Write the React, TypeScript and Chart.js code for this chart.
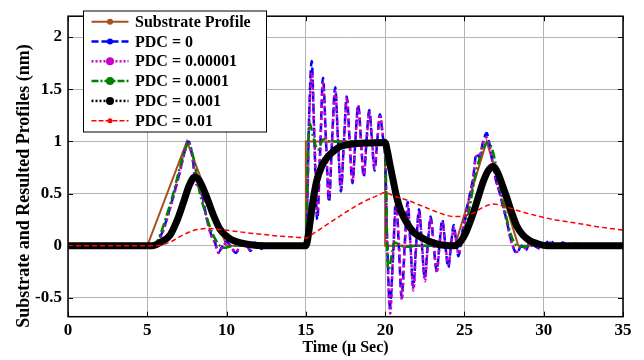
import React, { useEffect, useRef } from "react";
import { Chart, registerables } from "chart.js";
Chart.register(...registerables);

const xTickValues = [0, 5, 10, 15, 20, 25, 30, 35];
const yTickValues = [-0.5, 0, 0.5, 1, 1.5, 2];
const xTitle = "Time (\u00b5 Sec)";
const yTitle = "Substrate and Resulted Profiles (nm)";
const seriesLabels = ["Substrate Profile", "PDC = 0", "PDC = 0.00001", "PDC = 0.0001", "PDC = 0.001", "PDC = 0.01"];

const substrateT = [0, 5, 7.5, 10, 15, 15, 20, 20, 24.4, 26.4, 28.4, 35];
const substrateV = [0, 0, 1, 0, 0, 1, 1, 0, 0, 1, 0, 0];

const pdc0T = [0, 5.3, 5.6, 6.0, 6.5, 7.0, 7.3, 7.6, 7.85, 8.05, 8.25, 8.45, 8.7, 9.0, 9.25, 9.5, 9.75, 10.0, 10.3, 10.6, 10.9, 11.2, 11.5, 11.8, 12.2, 12.6, 13.0, 13.5, 14, 15,
  15.08, 15.2, 15.37, 15.52, 15.72, 15.9, 16.08, 16.27, 16.46, 16.65, 16.85, 17.03, 17.21, 17.4, 17.58, 17.76, 17.94, 18.12, 18.3, 18.48, 18.65, 18.82, 19.0, 19.17, 19.33, 19.5, 19.67, 19.85, 20.0,
  20.12, 20.3, 20.5, 20.68, 20.86, 21.04, 21.23, 21.42, 21.6, 21.77, 21.95, 22.14, 22.32, 22.5, 22.68, 22.87, 23.06, 23.25, 23.42, 23.6, 23.8, 23.98, 24.15, 24.32, 24.47, 24.62, 24.85,
  25.1, 25.35, 25.55, 25.75, 25.95, 26.15, 26.4, 26.6, 26.8, 27.0, 27.2, 27.4, 27.65, 27.95, 28.3, 28.6, 28.9, 29.1, 29.4, 29.8, 30.1, 30.4, 30.8, 31.2, 31.6, 32.0, 32.5, 33, 33.5, 34, 35];
const pdc0V = [0, 0, 0.03, 0.15, 0.4, 0.68, 0.87, 1.0, 0.85, 0.62, 0.58, 0.5, 0.3, 0.12, 0.04, -0.06, 0.0, 0.04, -0.02, -0.07, 0.02, 0.03, -0.05, 0.03, -0.03, 0.02, -0.01, 0.01, 0, 0,
  0.3, 1.2, 1.77, 1.1, 0.25, 0.9, 1.61, 1.0, 0.42, 1.0, 1.52, 1.0, 0.52, 1.0, 1.43, 1.0, 0.6, 1.0, 1.35, 1.0, 0.66, 1.0, 1.3, 1.0, 0.72, 1.0, 1.26, 1.05, 0.85,
  0.1, -0.58, -0.1, 0.45, 0.0, -0.49, 0.0, 0.42, 0.0, -0.4, 0.0, 0.35, 0.0, -0.31, 0.0, 0.28, 0.0, -0.24, 0.0, 0.25, 0.0, -0.21, 0.0, 0.2, 0.05, -0.1, 0.12,
  0.31, 0.5, 0.65, 0.88, 0.85, 0.98, 1.08, 0.96, 0.78, 0.62, 0.52, 0.4, 0.25, 0.05, -0.07, 0.0, -0.04, 0.03, 0.0, -0.03, 0.02, 0.05, 0.0, 0.03, -0.01, 0.02, 0.0, 0.02, 0, 0.01, 0];

const pdc1T = [0, 5.35, 5.65, 6.0, 6.5, 7.0, 7.3, 7.6, 7.85, 8.05, 8.25, 8.45, 8.7, 9.0, 9.25, 9.5, 9.75, 10.0, 10.3, 10.6, 10.9, 11.2, 11.5, 11.8, 12.2, 12.6, 13.0, 14, 15,
  15.08, 15.2, 15.38, 15.53, 15.72, 15.9, 16.09, 16.27, 16.46, 16.65, 16.86, 17.03, 17.22, 17.4, 17.59, 17.76, 17.95, 18.12, 18.31, 18.48, 18.66, 18.83, 19.01, 19.18, 19.34, 19.5, 19.68, 19.86, 20.0,
  20.12, 20.32, 20.5, 20.7, 20.88, 21.06, 21.24, 21.43, 21.6, 21.78, 21.96, 22.15, 22.33, 22.51, 22.69, 22.88, 23.07, 23.26, 23.43, 23.61, 23.8, 23.99, 24.16, 24.33, 24.48, 24.63, 24.85,
  25.1, 25.35, 25.55, 25.75, 25.95, 26.15, 26.4, 26.6, 26.8, 27.0, 27.2, 27.4, 27.65, 27.95, 28.3, 28.6, 28.9, 29.1, 29.4, 29.8, 30.1, 30.4, 30.8, 31.2, 31.6, 32.0, 33, 35];
const pdc1V = [0, 0, 0.03, 0.14, 0.39, 0.67, 0.86, 1.0, 0.84, 0.6, 0.57, 0.48, 0.29, 0.11, 0.03, -0.07, -0.01, 0.03, -0.02, -0.06, 0.01, 0.02, -0.04, 0.02, -0.02, 0.01, -0.01, 0, 0,
  0.3, 1.15, 1.66, 1.1, 0.3, 0.9, 1.56, 1.0, 0.46, 1.0, 1.48, 1.0, 0.55, 1.0, 1.42, 1.0, 0.62, 1.0, 1.34, 1.0, 0.68, 1.0, 1.28, 1.0, 0.74, 1.0, 1.24, 1.05, 0.85,
  0.05, -0.65, -0.1, 0.4, 0.0, -0.52, 0.0, 0.38, 0.0, -0.43, 0.0, 0.32, 0.0, -0.34, 0.0, 0.26, 0.0, -0.26, 0.0, 0.22, 0.0, -0.18, 0.0, 0.17, 0.04, -0.08, 0.1,
  0.3, 0.49, 0.64, 0.86, 0.86, 0.97, 1.04, 0.95, 0.77, 0.62, 0.52, 0.4, 0.24, 0.04, -0.06, 0.0, -0.03, 0.02, 0.0, -0.02, 0.01, 0.03, 0.0, 0.02, -0.01, 0.01, 0.01, 0];

const pdc2T = [0, 5.4, 5.8, 6.2, 6.64, 7.0, 7.3, 7.6, 7.9, 8.32, 8.7, 9.1, 9.58, 9.9, 10.4, 15, 15.06, 15.15, 15.26, 15.45, 15.75, 16.1, 16.5, 20, 20.06, 20.12, 20.22, 20.4, 20.6, 21.0, 21.4, 22, 24.6,
  25.0, 25.3, 25.7, 26.1, 26.5, 26.8, 27.1, 27.5, 27.9, 28.3, 28.6, 29.2, 35];
const pdc2V = [0, 0, 0.1, 0.28, 0.5, 0.72, 0.88, 0.98, 0.85, 0.5, 0.3, 0.12, 0.0, -0.02, 0.0, 0, 0.4, 1.0, 1.17, 1.05, 0.92, 1.02, 1.0, 1.0, 0.6, 0.0, -0.23, -0.1, 0.03, 0.0, -0.01, 0, 0,
  0.15, 0.35, 0.68, 0.9, 0.99, 0.9, 0.68, 0.38, 0.12, 0.0, -0.01, 0.0, 0];

const pdc3T = [0, 5.3, 5.8, 6.43, 6.9, 7.27, 7.65, 8.0, 8.3, 8.74, 9.1, 9.58, 10.1, 10.6, 11.3, 12.5, 15, 15.1, 15.26, 15.45, 15.68, 16.0, 16.31, 16.7, 17.15, 17.7, 18.2, 19, 19.99,
  20.15, 20.3, 20.5, 20.72, 21.0, 21.36, 21.8, 22.4, 23, 23.45, 24.3, 24.7, 25.1, 25.55, 25.9, 26.2, 26.5, 26.8, 27.1, 27.35, 27.65, 28.0, 28.3, 28.7, 29.1, 29.6, 30.2, 35];
const pdc3V = [0, 0, 0.03, 0.1, 0.25, 0.41, 0.58, 0.66, 0.62, 0.47, 0.32, 0.16, 0.08, 0.04, 0.015, 0, 0, 0.05, 0.22, 0.43, 0.62, 0.76, 0.84, 0.9, 0.95, 0.97, 0.98, 0.985, 0.99,
  0.9, 0.78, 0.63, 0.47, 0.33, 0.22, 0.13, 0.07, 0.03, 0.01, 0, 0.03, 0.13, 0.31, 0.48, 0.62, 0.72, 0.76, 0.7, 0.6, 0.47, 0.31, 0.19, 0.1, 0.05, 0.02, 0, 0];

const pdc4T = [0, 5.5, 6.5, 7.2, 8.0, 8.8, 9.6, 10.5, 11.5, 12.5, 13.5, 14.5, 15, 15.5, 16.5, 17.5, 18.5, 19.5, 20, 20.5, 21.5, 22.5, 23.5, 24.3, 24.8, 25.5, 26.2, 26.8, 27.5, 28.5, 29.5, 30.5, 31.5, 32.5, 33.5, 35];
const pdc4V = [0, 0, 0.04, 0.1, 0.15, 0.165, 0.155, 0.14, 0.12, 0.105, 0.09, 0.08, 0.075, 0.12, 0.22, 0.32, 0.41, 0.48, 0.51, 0.48, 0.43, 0.37, 0.31, 0.28, 0.28, 0.31, 0.37, 0.4, 0.38, 0.33, 0.29, 0.255, 0.23, 0.205, 0.18, 0.15];

const FONT = "'Liberation Serif', 'Times New Roman', serif";

const pts = (t: number[], v: number[]) => t.map((x, i) => ({ x, y: v[i] }));

const styles = [
  { color: "#a8501c", width: 2, dash: [] as number[], legendDash: [] as number[], marker: 3, mono: false },
  { color: "#0000ff", width: 2.5, dash: [8, 4], legendDash: [7, 3], marker: 3, mono: true },
  { color: "#c800c8", width: 2.5, dash: [3, 3], legendDash: [2, 2], marker: 4, mono: true },
  { color: "#008000", width: 2.5, dash: [9, 3, 2, 3], legendDash: [7, 2, 2, 2], marker: 4, mono: true },
  { color: "#000000", width: 7, dash: [], legendDash: [2, 2], marker: 4, mono: true },
  { color: "#ff0000", width: 1.5, dash: [5, 3], legendDash: [5, 2], marker: 2.5, mono: true },
];

const seriesData = [pts(substrateT, substrateV), pts(pdc0T, pdc0V), pts(pdc1T, pdc1V), pts(pdc2T, pdc2V), pts(pdc3T, pdc3V), pts(pdc4T, pdc4V)];

const decorPlugin = {
  id: "decor",
  afterDatasetsDraw(chart: any) {
    const { ctx, chartArea: a, scales } = chart;
    ctx.save();
    ctx.strokeStyle = "#000";
    ctx.lineWidth = 1;
    const tl = 5;
    const seg = (x1: number, y1: number, x2: number, y2: number) => {
      ctx.beginPath(); ctx.moveTo(x1, y1); ctx.lineTo(x2, y2); ctx.stroke();
    };
    for (const v of xTickValues) {
      const x = Math.round(scales.x.getPixelForValue(v)) + 0.5;
      seg(x, a.bottom, x, a.bottom - tl);
      seg(x, a.top, x, a.top + tl);
    }
    for (const v of yTickValues) {
      const y = Math.round(scales.y.getPixelForValue(v)) + 0.5;
      seg(a.left, y, a.left + tl, y);
      seg(a.right, y, a.right - tl, y);
    }
    ctx.lineWidth = 1.5;
    ctx.strokeRect(a.left, a.top, a.right - a.left, a.bottom - a.top);

    // legend
    const bx = 83.5, by = 11, bw = 183, bh = 121;
    ctx.fillStyle = "#fff";
    ctx.fillRect(bx, by, bw, bh);
    ctx.lineWidth = 1;
    ctx.strokeStyle = "#000";
    ctx.strokeRect(bx, by, bw, bh);
    ctx.font = `bold 16px ${FONT}`;
    ctx.textAlign = "left";
    ctx.textBaseline = "middle";
    seriesLabels.forEach((label, i) => {
      const s = styles[i];
      const y = 21.7 + i * 19.8;
      ctx.strokeStyle = s.color;
      ctx.lineWidth = i === 4 ? 2.5 : Math.min(s.width, 2.5);
      ctx.setLineDash(s.legendDash);
      seg(91.5, y, 128.5, y);
      ctx.setLineDash([]);
      ctx.fillStyle = s.color;
      ctx.beginPath(); ctx.arc(110, y, s.marker, 0, Math.PI * 2); ctx.fill();
      ctx.fillStyle = "#000";
      ctx.fillText(label, 135, y + 1);
    });

    // y title
    ctx.translate(24, 186);
    ctx.rotate(-Math.PI / 2);
    ctx.font = `bold 18px ${FONT}`;
    ctx.textAlign = "center";
    ctx.textBaseline = "middle";
    ctx.fillStyle = "#000";
    ctx.fillText(yTitle, 0, 0);
    ctx.restore();
  },
};

export default function App() {
  const ref = useRef<HTMLCanvasElement | null>(null);
  useEffect(() => {
    if (!ref.current) return;
    const chart = new Chart(ref.current, {
      type: "line",
      data: {
        datasets: seriesLabels.map((label, i) => ({
          label,
          data: seriesData[i],
          borderColor: styles[i].color,
          backgroundColor: styles[i].color,
          borderWidth: styles[i].width,
          borderDash: styles[i].dash,
          pointRadius: 0,
          fill: false,
          tension: 0,
          cubicInterpolationMode: styles[i].mono ? "monotone" : "default",
          order: 5 - i,
        })),
      },
      options: {
        responsive: false,
        animation: false,
        devicePixelRatio: 1,
        layout: { padding: { top: 6.7, right: 21, left: 0, bottom: 0 } },
        plugins: { legend: { display: false }, tooltip: { enabled: false } },
        scales: {
          x: {
            type: "linear",
            min: 0,
            max: 35,
            afterBuildTicks: (s: any) => { s.ticks = xTickValues.map((value) => ({ value })); },
            afterFit: (s: any) => { s.height = 43.3; },
            grid: { color: "#b4b4b4", lineWidth: 1, drawTicks: false },
            border: { display: false },
            ticks: { color: "#000", font: { family: FONT, size: 17, weight: "bold" }, padding: 4, maxRotation: 0, callback: (v: any) => String(v) },
            title: { display: true, text: xTitle, color: "#000", font: { family: FONT, size: 16, weight: "bold" }, padding: { top: 0, bottom: 3 } },
          },
          y: {
            type: "linear",
            min: -0.68,
            max: 2.2,
            afterBuildTicks: (s: any) => { s.ticks = yTickValues.map((value) => ({ value })); },
            afterFit: (s: any) => { s.width = 68; },
            grid: { color: "#b4b4b4", lineWidth: 1, drawTicks: false },
            border: { display: false },
            ticks: { color: "#000", font: { family: FONT, size: 17, weight: "bold" }, padding: 6, callback: (v: any) => String(v) },
          },
        },
      },
      plugins: [decorPlugin],
    } as any);
    return () => chart.destroy();
  }, []);
  return (
    <div style={{ position: "absolute", left: 0, top: 0, width: 644, height: 360, background: "#fff" }}>
      <canvas ref={ref} width={644} height={360} style={{ display: "block" }} />
    </div>
  );
}
